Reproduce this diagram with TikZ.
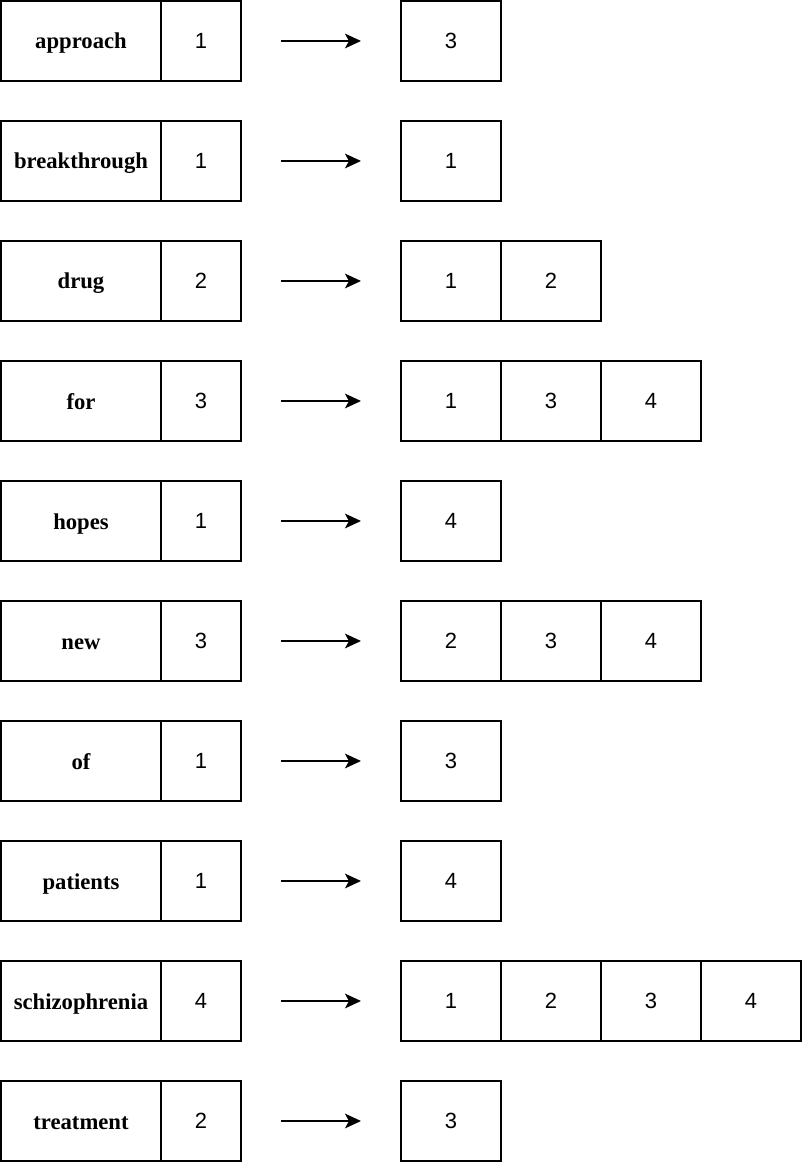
\documentclass[tikz,border=0pt]{standalone}
\usepackage{fontspec}
\setmainfont{Liberation Serif}
\newfontfamily\numfont{Liberation Sans}
\usetikzlibrary{arrows.meta}
\tikzset{
  cell/.style={draw,line width=1.5pt,minimum height=60pt,inner sep=0pt,outer sep=0pt},
  wordbox/.style={cell,minimum width=120pt,text height=12pt,text depth=0pt,font=\bfseries\fontsize{17}{20}\selectfont},
  countbox/.style={cell,minimum width=60pt,font=\numfont\fontsize{16.5}{19}\selectfont},
  postbox/.style={cell,minimum width=75pt,font=\numfont\fontsize{16.5}{19}\selectfont},
}
\begin{document}
\begin{tikzpicture}[x=0.75pt,y=-0.75pt,>={Stealth[length=12pt,width=11pt,inset=3pt]}]
  \useasboundingbox (0,0) rectangle (802,1162);
  % one row per term: term, document frequency, postings list
  \foreach \w/\n/\l [count=\i from 0] in {approach/1/{3},breakthrough/1/{1},drug/2/{1,2},for/3/{1,3,4},hopes/1/{4},new/3/{2,3,4},of/1/{3},patients/1/{4},schizophrenia/4/{1,2,3,4},treatment/2/{3}}{
    \pgfmathsetmacro\y{41+120*\i}
    \node[wordbox] (w\i) at (81,\y) {\w};
    \node[countbox] (c\i) at (201,\y) {\n};
    \coordinate (a\i) at (281,\y);
    \coordinate (b\i) at (361,\y);
    \draw[->,line width=1.5pt] (a\i) -- (b\i);
    \foreach \p [count=\j from 0] in \l {
      \node[postbox] (p\i-\j) at (451+100*\j,\y) {\p};
    }
  }
\end{tikzpicture}
\end{document}
